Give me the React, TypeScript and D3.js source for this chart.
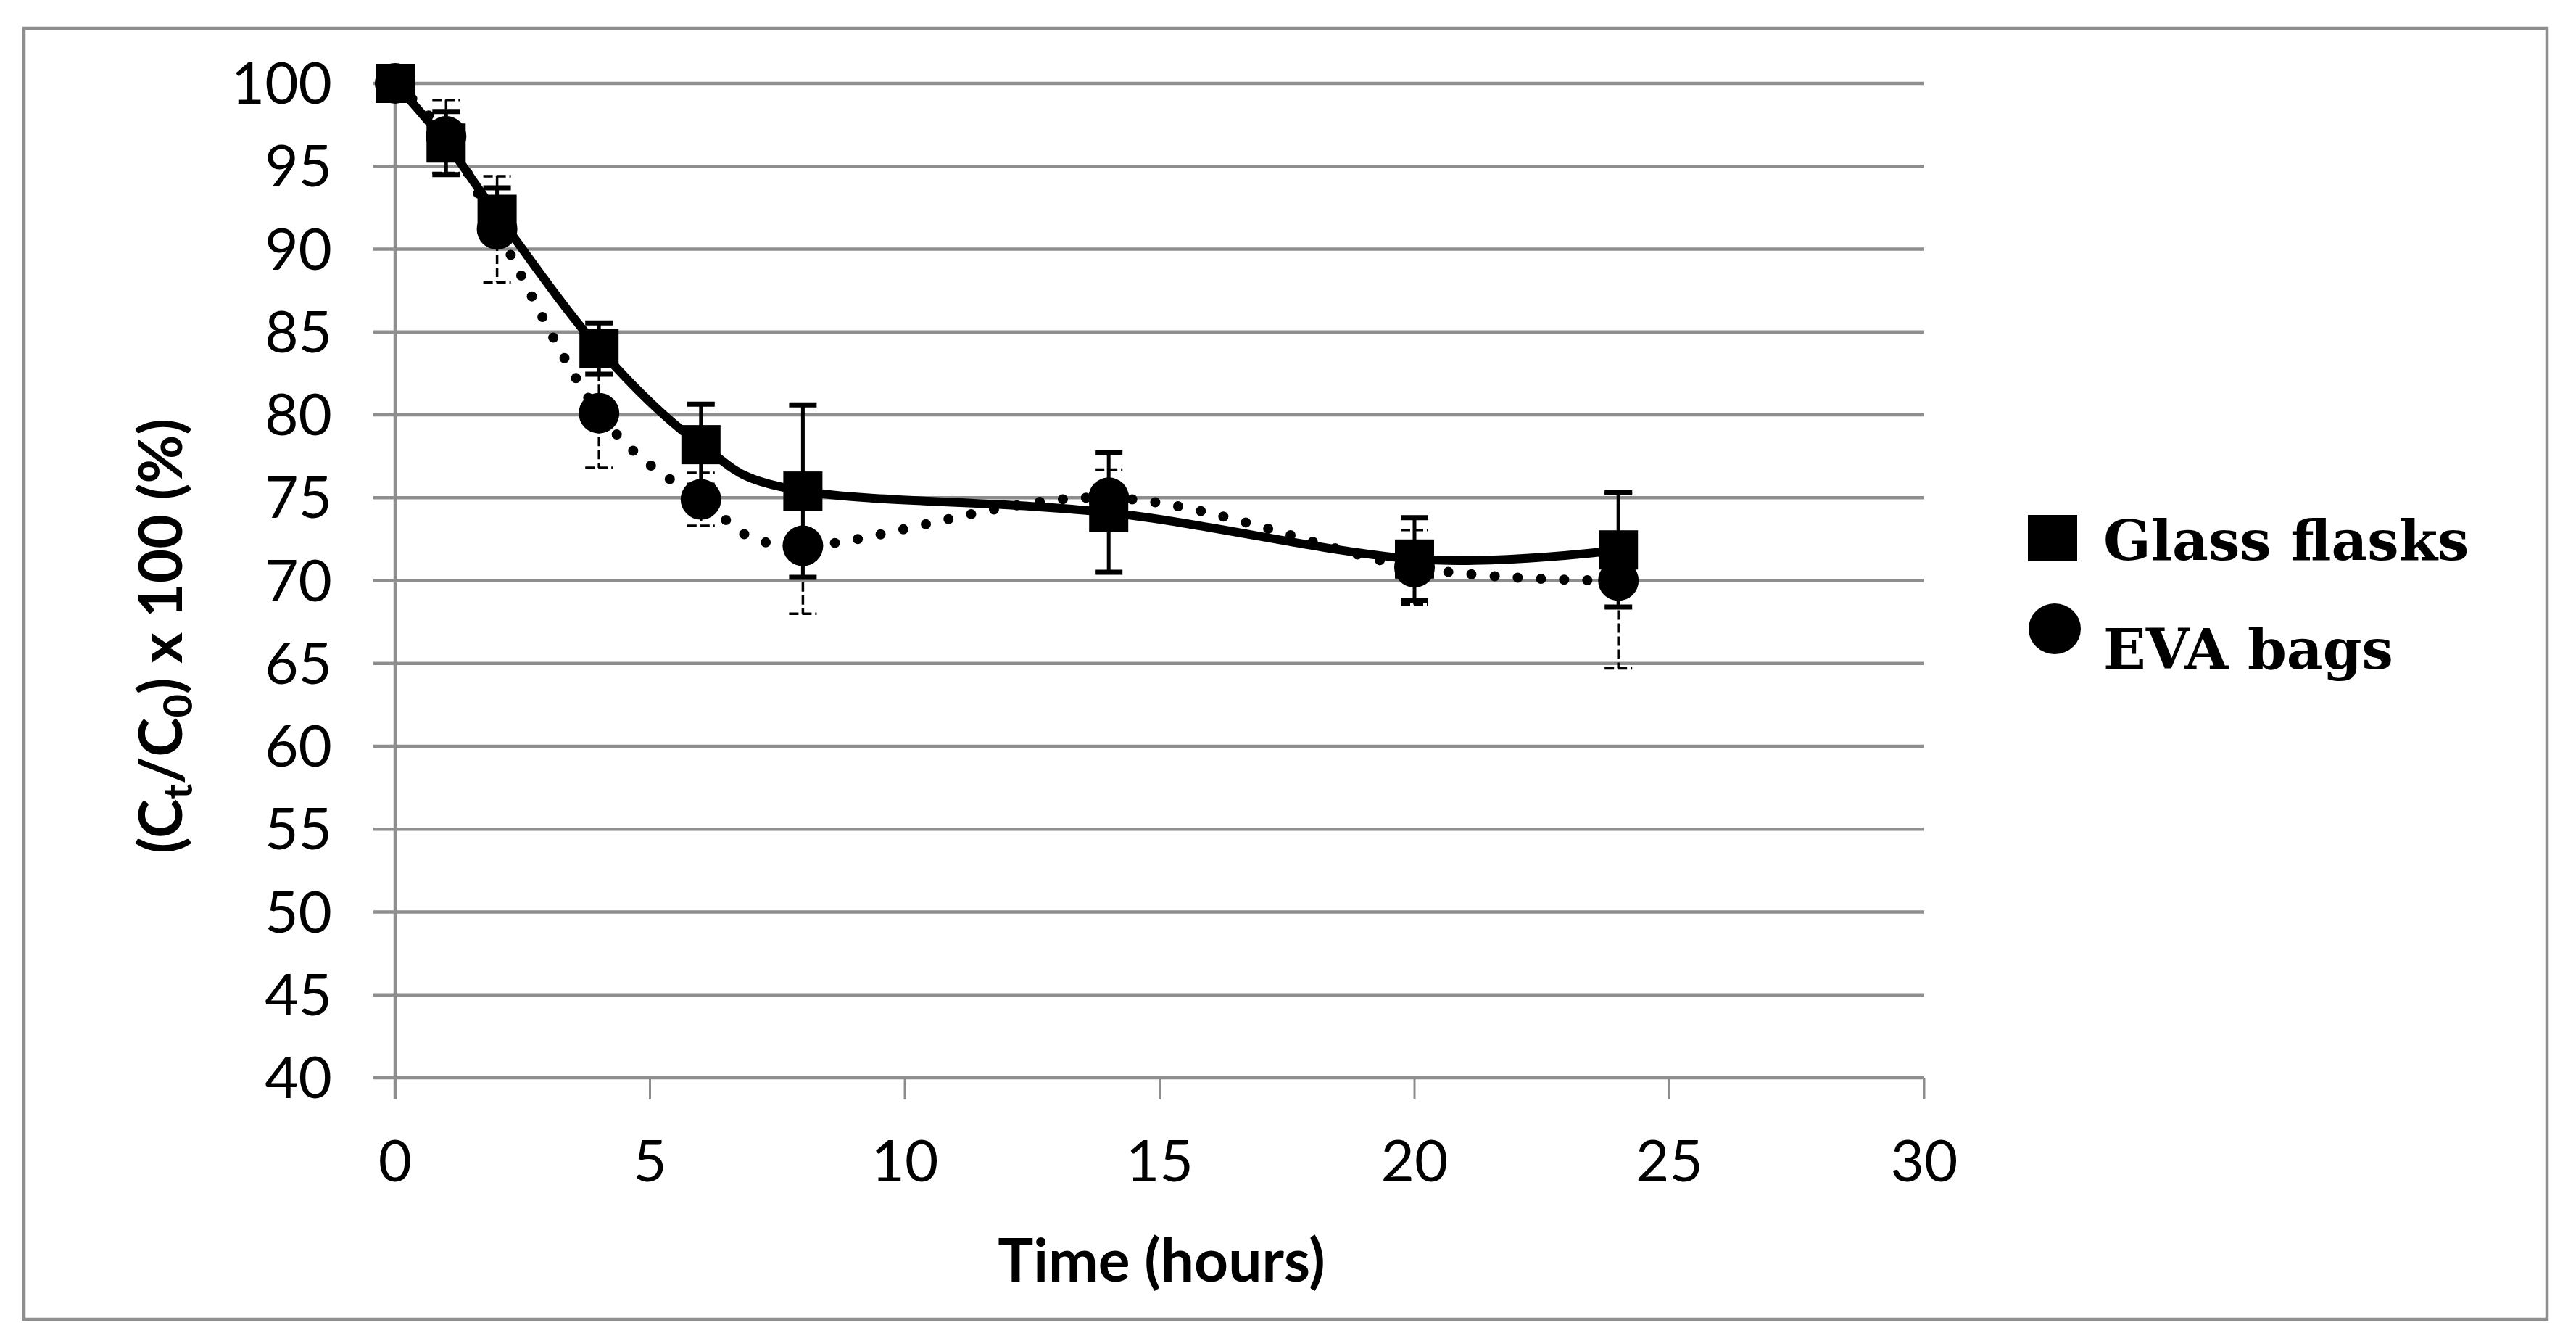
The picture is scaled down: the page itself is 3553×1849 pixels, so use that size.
import { useEffect } from "react";
import * as d3 from "d3";

// time points (hours) and % remaining
const hours = [0, 1, 2, 4, 6, 8, 14, 20, 24];
const glassMean = [100, 96.4, 92.1, 84.0, 78.2, 75.4, 74.1, 71.3, 71.85];
const glassErr = [0, 1.9, 1.6, 1.55, 2.45, 5.2, 3.6, 2.5, 3.45];
const evaMean = [100, 96.8, 91.2, 80.1, 74.9, 72.1, 75.0, 70.8, 70.0];
const evaErr = [0, 2.2, 3.2, 3.3, 1.6, 4.1, 1.7, 2.25, 5.3];

const yTicks = [40, 45, 50, 55, 60, 65, 70, 75, 80, 85, 90, 95, 100];
const xTicks = [0, 5, 10, 15, 20, 25, 30];
const seriesNames = ["Glass flasks", "EVA bags"];

const W = 3553;
const H = 1849;
const GRID = "#8e8e8e";
const AXIS_FONT = "Lato, 'Open Sans', sans-serif";
const LEGEND_FONT = "'DejaVu Serif', 'Liberation Serif', serif";

export default function App() {
  useEffect(() => {
    document.body.style.margin = "0";
  }, []);

  /* ---------------- SCALES ---------------- */
  const x = d3.scaleLinear().domain([0, 30]).range([545, 2654]);
  const y = d3.scaleLinear().domain([40, 100]).range([1486, 115]);

  const line = d3
    .line<number>()
    .x((_, i) => x(hours[i]))
    .y((d) => y(d))
    .curve(d3.curveCatmullRom.alpha(0));

  const glassPath = line(glassMean) ?? "";
  const evaPath = line(evaMean) ?? "";

  const sq = 54;
  const r = 28;
  const cap = 19;

  return (
    <svg width={W} height={H} style={{ display: "block", background: "#fff" }}>
      {/* outer frame */}
      <rect x={33} y={39} width={3480} height={1780} fill="#fff" stroke={GRID} strokeWidth={4.5} />

      {/* gridlines + y ticks */}
      {yTicks.map((t) => (
        <g key={"y" + t}>
          <line x1={x(0) - 30} x2={x(30)} y1={y(t)} y2={y(t)} stroke={GRID} strokeWidth={4.5} />
          <text
            x={458}
            y={y(t) + 28}
            textAnchor="end"
            fontFamily={AXIS_FONT}
            fontSize={80}
            fill="#000"
          >
            {t}
          </text>
        </g>
      ))}

      {/* y axis line */}
      <line x1={x(0)} x2={x(0)} y1={y(100)} y2={y(40) + 30} stroke={GRID} strokeWidth={4.5} />

      {/* x ticks */}
      {xTicks.map((t) => (
        <g key={"x" + t}>
          <line x1={x(t)} x2={x(t)} y1={y(40)} y2={y(40) + 30} stroke={GRID} strokeWidth={3} />
          <text x={x(t)} y={1629} textAnchor="middle" fontFamily={AXIS_FONT} fontSize={80} fill="#000">
            {t}
          </text>
        </g>
      ))}

      {/* axis titles */}
      <text x={1602} y={1767} textAnchor="middle" fontFamily={AXIS_FONT} fontWeight="bold" fontSize={82}>
        Time (hours)
      </text>
      <text
        transform="translate(251,877) rotate(-90)"
        textAnchor="middle"
        fontFamily={AXIS_FONT}
        fontWeight="bold"
        fontSize={82}
      >
        (C<tspan fontSize={56} dy={14}>t</tspan>
        <tspan dy={-14}>/C</tspan>
        <tspan fontSize={56} dy={14}>0</tspan>
        <tspan dy={-14}>) x 100 (%)</tspan>
      </text>

      {/* ---------------- EVA bags (dotted) ---------------- */}
      <path
        d={evaPath}
        fill="none"
        stroke="#000"
        strokeWidth={14}
        strokeLinecap="round"
        strokeDasharray="0 32"
      />
      {hours.map((h, i) =>
        evaErr[i] > 0 ? (
          <g key={"ee" + i} stroke="#000" strokeWidth={3.5} strokeDasharray="13 5">
            <line x1={x(h)} x2={x(h)} y1={y(evaMean[i] + evaErr[i])} y2={y(evaMean[i] - evaErr[i])} />
            <line x1={x(h) - cap} x2={x(h) + cap} y1={y(evaMean[i] + evaErr[i])} y2={y(evaMean[i] + evaErr[i])} />
            <line x1={x(h) - cap} x2={x(h) + cap} y1={y(evaMean[i] - evaErr[i])} y2={y(evaMean[i] - evaErr[i])} />
          </g>
        ) : null
      )}
      {hours.map((h, i) => (
        <circle key={"ec" + i} cx={x(h)} cy={y(evaMean[i])} r={r} fill="#000" />
      ))}

      {/* ---------------- Glass flasks (solid) ---------------- */}
      <path d={glassPath} fill="none" stroke="#000" strokeWidth={12} strokeLinejoin="round" />
      {hours.map((h, i) =>
        glassErr[i] > 0 ? (
          <g key={"ge" + i} stroke="#000">
            <line
              x1={x(h)}
              x2={x(h)}
              y1={y(glassMean[i] + glassErr[i])}
              y2={y(glassMean[i] - glassErr[i])}
              strokeWidth={5}
            />
            <line
              x1={x(h) - cap}
              x2={x(h) + cap}
              y1={y(glassMean[i] + glassErr[i])}
              y2={y(glassMean[i] + glassErr[i])}
              strokeWidth={7}
            />
            <line
              x1={x(h) - cap}
              x2={x(h) + cap}
              y1={y(glassMean[i] - glassErr[i])}
              y2={y(glassMean[i] - glassErr[i])}
              strokeWidth={7}
            />
          </g>
        ) : null
      )}
      {hours.map((h, i) => (
        <rect
          key={"gs" + i}
          x={x(h) - sq / 2}
          y={y(glassMean[i]) - sq / 2}
          width={sq}
          height={sq}
          fill="#000"
        />
      ))}

      {/* ---------------- LEGEND ---------------- */}
      <rect x={2797} y={710} width={68} height={64} fill="#000" />
      <text x={2901} y={772} fontFamily={LEGEND_FONT} fontWeight="bold" fontSize={77} fill="#000">
        {seriesNames[0]}
      </text>
      <ellipse cx={2834} cy={867} rx={36} ry={35} fill="#000" />
      <text x={2901} y={922} fontFamily={LEGEND_FONT} fontWeight="bold" fontSize={77} fill="#000">
        {seriesNames[1]}
      </text>
    </svg>
  );
}
